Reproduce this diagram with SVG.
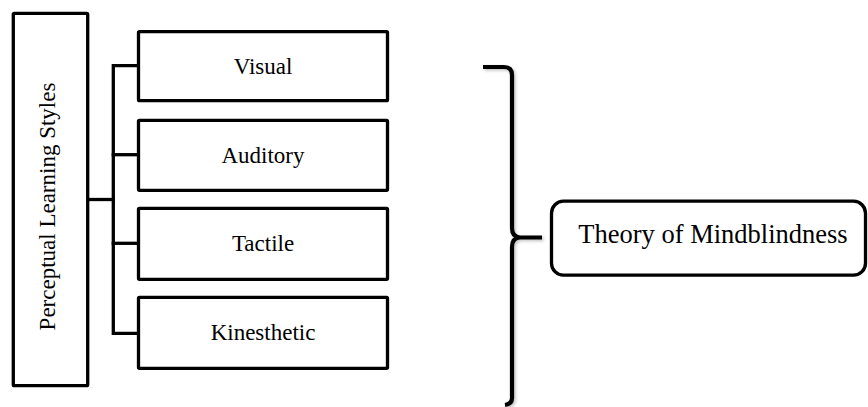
<svg xmlns="http://www.w3.org/2000/svg" width="868" height="407" viewBox="0 0 868 407">
  <style>
    .box { fill: #ffffff; stroke: #000000; stroke-width: 3.3; stroke-linejoin: round; }
    .lbl { font-family: "Liberation Serif", "Times New Roman", serif; font-size: 23px; fill: #000000; text-anchor: middle; }
    .big { font-size: 26.5px; }
    .con { fill: none; stroke: #000000; stroke-width: 3.3; stroke-linejoin: miter; stroke-linecap: square; }
    .brace { fill: none; stroke: #000000; stroke-width: 4.2; stroke-linejoin: round; stroke-linecap: butt; }
  </style>
  <defs>
    <filter id="sh" x="-20%" y="-5%" width="160%" height="115%">
      <feDropShadow dx="1.5" dy="1.5" stdDeviation="1.5" flood-color="#000000" flood-opacity="0.25"/>
    </filter>
  </defs>
  <rect width="868" height="407" fill="#ffffff"/>

  <g id="connectors">
    <path class="con" d="M87.7,199.5 H113.3"/>
    <path class="con" d="M138.5,65.7 H113.3 V333.3 H138.5"/>
    <path class="con" d="M113.3,154.7 H138.5"/>
    <path class="con" d="M113.3,243.3 H138.5"/>
    <g id="brace" filter="url(#sh)">
      <path class="brace" d="M483,67 H504 Q512,67 512,75 V228 Q512,237 520,237.5 H542 M520,237.5 Q512,238 512,247 V398 Q512,404 505,405"/>
    </g>
  </g>

  <g id="perceptual">
    <rect class="box" x="13.3" y="13.3" width="74.4" height="372.4" rx="1"/>
    <text class="lbl" transform="translate(55,206.5) rotate(-90)">Perceptual Learning Styles</text>
  </g>

  <g id="visual">
    <rect class="box" x="138.5" y="31.7" width="249" height="69" rx="1"/>
    <text class="lbl" x="263" y="74">Visual</text>
  </g>

  <g id="auditory">
    <rect class="box" x="138.5" y="120.3" width="249" height="70" rx="1"/>
    <text class="lbl" x="263" y="163">Auditory</text>
  </g>

  <g id="tactile">
    <rect class="box" x="138.5" y="208.3" width="249" height="71" rx="1"/>
    <text class="lbl" x="263" y="251">Tactile</text>
  </g>

  <g id="kinesthetic">
    <rect class="box" x="138.5" y="297.3" width="249" height="71" rx="1"/>
    <text class="lbl" x="263" y="340">Kinesthetic</text>
  </g>

  <g id="theory">
    <rect class="box" x="551.5" y="201.2" width="314" height="74" rx="12" stroke-width="3.6"/>
    <text class="lbl big" x="713" y="243">Theory of Mindblindness</text>
  </g>
</svg>
